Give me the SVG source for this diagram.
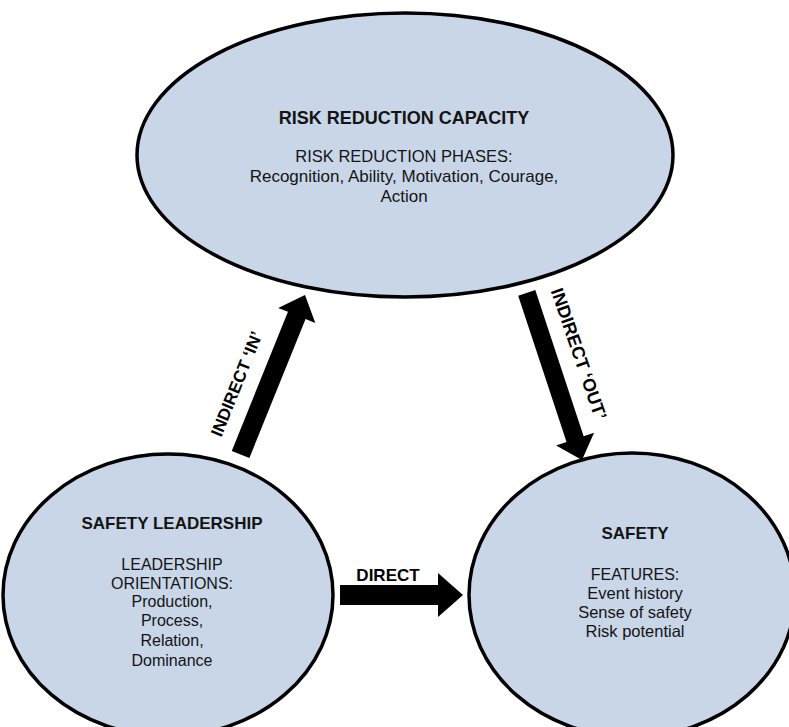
<svg xmlns="http://www.w3.org/2000/svg" width="789" height="727" viewBox="0 0 789 727">
  <style>
    .node { fill: #c9d6e8; stroke: #000; stroke-width: 3.5; }
    text { font-family: "Liberation Sans", Arial, sans-serif; fill: #141414; text-anchor: middle; }
    .title { font-weight: bold; font-size: 17px; }
    .body { font-size: 16px; }
    .lbl { font-weight: bold; font-size: 17px; fill: #000; }
    .arrow { fill: #000; }
  </style>
  <rect x="0" y="0" width="789" height="727" fill="#fff"/>

  <g id="risk-reduction-capacity">
    <ellipse class="node" cx="405" cy="155" rx="268" ry="142"/>
    <text class="title" x="404" y="124" style="font-size:18px">RISK REDUCTION CAPACITY</text>
    <text class="body" x="404" y="162" style="font-size:16.5px">RISK REDUCTION PHASES:</text>
    <text class="body" x="404" y="182" style="font-size:17px">Recognition, Ability, Motivation, Courage,</text>
    <text class="body" x="404" y="202" style="font-size:17px">Action</text>
  </g>

  <g id="safety-leadership">
    <ellipse class="node" cx="168" cy="595" rx="165" ry="141"/>
    <text class="title" x="172" y="529">SAFETY LEADERSHIP</text>
    <text class="body" x="172" y="570">LEADERSHIP</text>
    <text class="body" x="172" y="589">ORIENTATIONS:</text>
    <text class="body" x="172" y="607">Production,</text>
    <text class="body" x="172" y="626">Process,</text>
    <text class="body" x="172" y="646">Relation,</text>
    <text class="body" x="172" y="666">Dominance</text>
  </g>

  <g id="safety">
    <ellipse class="node" cx="632" cy="595" rx="163" ry="142"/>
    <text class="title" x="635" y="539">SAFETY</text>
    <text class="body" x="635" y="580" style="font-size:16px">FEATURES:</text>
    <text class="body" x="635" y="599" style="font-size:16.5px">Event history</text>
    <text class="body" x="635" y="618" style="font-size:16.5px">Sense of safety</text>
    <text class="body" x="635" y="637" style="font-size:16.5px">Risk potential</text>
  </g>

  <g id="connectors">
    <g id="indirect-in">
      <polygon class="arrow" transform="translate(305,295) rotate(-68)" points="-172,-9.5 -22,-9.5 -22,-20 0,0 -22,20 -22,9.5 -172,9.5"/>
      <text class="lbl" transform="translate(242,386) rotate(-68)" x="0" y="0">INDIRECT ‘IN’</text>
    </g>
    <g id="indirect-out">
      <polygon class="arrow" transform="translate(582,460) rotate(71.7)" points="-176,-9 -22,-9 -22,-20 0,0 -22,20 -22,9 -176,9"/>
      <text class="lbl" transform="translate(573,356) rotate(71)" x="0" y="0" style="font-size:18px">INDIRECT ‘OUT’</text>
    </g>
    <g id="direct">
      <polygon class="arrow" points="340,585 438,585 438,573 463,595 438,617 438,605 340,605"/>
      <text class="lbl" x="388" y="581">DIRECT</text>
    </g>
  </g>
</svg>
